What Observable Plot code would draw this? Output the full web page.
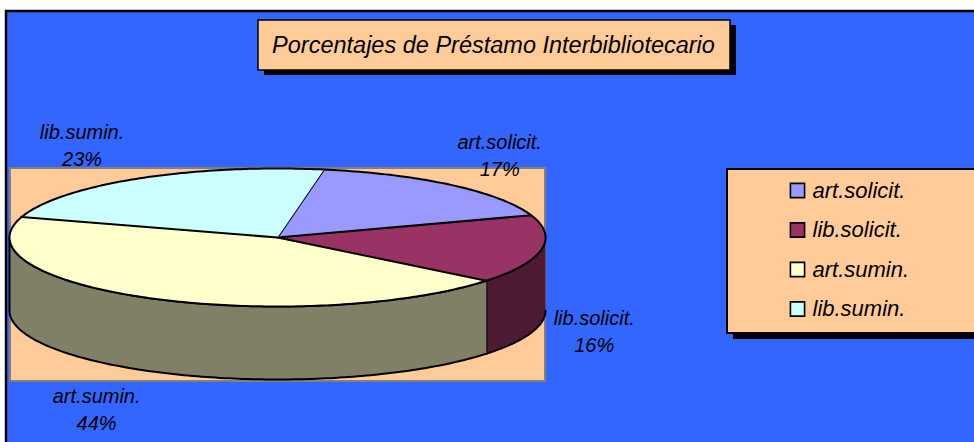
<!DOCTYPE html>
<html>
<head>
<meta charset="utf-8">
<script src="https://cdn.jsdelivr.net/npm/d3@7"></script>
<script src="https://cdn.jsdelivr.net/npm/@observablehq/plot@0.6"></script>
<style>
  html, body { margin: 0; padding: 0; background: #ffffff; }
  #chart { width: 974px; height: 442px; overflow: hidden; }
</style>
</head>
<body>
<div id="chart"></div>
<script>
// ---- data ----
const title = "Porcentajes de Préstamo Interbibliotecario";
const categories = ["art.solicit.", "lib.solicit.", "art.sumin.", "lib.sumin."];
const percentages = [17, 16, 44, 23];
const topColors = ["#9999FF", "#993366", "#FFFFCC", "#CCFFFF"];
const sideColors = ["#4D4D80", "#4D1933", "#808066", "#668080"];

// ---- layout ----
const W = 974, H = 442;
const cx = 277, cy = 237, rx = 268, ry = 69, depth = 73, startDeg = 10;
const labelCx = 272, labelRx = 283, labelRy = 110, labelHalfW = 43;
const font = "'Liberation Sans', Arial, Helvetica, sans-serif";

const total = d3.sum(percentages);
let acc = 0;
const slices = categories.map((c, i) => {
  const a0 = startDeg + acc / total * 360;
  acc += percentages[i];
  const a1 = startDeg + acc / total * 360;
  return {c, i, a0, a1, p: percentages[i]};
});

function pt(deg, dy = 0) {
  const r = deg * Math.PI / 180;
  return [cx + rx * Math.sin(r), cy - ry * Math.cos(r) + dy];
}
function arc(a, b) {
  const n = Math.max(2, Math.ceil(Math.abs(b - a)));
  return d3.range(n + 1).map(k => a + (b - a) * k / n);
}

// top faces
const topPts = [];
for (const s of slices) {
  const id = "top" + s.i;
  topPts.push({id, x: cx, y: cy, fill: topColors[s.i]});
  for (const a of arc(s.a0, s.a1)) {
    const [x, y] = pt(a);
    topPts.push({id, x, y, fill: topColors[s.i]});
  }
}
// visible side walls (front half: 90..270 deg)
const sidePts = [];
for (const s of slices) {
  for (const [lo, hi] of [[90, 270], [450, 630]]) {
    const a = Math.max(s.a0, lo), b = Math.min(s.a1, hi);
    if (b <= a) continue;
    const id = "side" + s.i + "_" + lo;
    for (const t of arc(a, b)) { const [x, y] = pt(t); sidePts.push({id, x, y, fill: sideColors[s.i]}); }
    for (const t of arc(b, a)) { const [x, y] = pt(t, depth); sidePts.push({id, x, y, fill: sideColors[s.i]}); }
  }
}
// labels
const labels = slices.map(s => {
  const m = (s.a0 + s.a1) / 2 * Math.PI / 180;
  const sn = Math.sin(m), cs = -Math.cos(m);
  return {
    text: `${s.c}\n${s.p}%`,
    x: labelCx + labelRx * sn + Math.sign(sn) * labelHalfW,
    y: cy + labelRy * cs + (cs > 0 ? depth : 0)
  };
});
// legend
const legend = categories.map((c, i) => ({c, i, color: topColors[i]}));
const legX = 797, legY0 = 190, legStep = 39.5;

const box = (x1, y1, x2, y2, o) => Plot.rect([0], {x1: () => x1, y1: () => y1, x2: () => x2, y2: () => y2, ...o});

const chart = Plot.plot({
  width: W, height: H,
  margin: 0,
  style: {background: "#ffffff", overflow: "hidden"},
  x: {domain: [0, W], range: [0, W], axis: null},
  y: {domain: [0, H], range: [0, H], axis: null},
  marks: [
    box(6, 11, 990, 460, {fill: "#3366FF", stroke: "#000000", strokeWidth: 2.5}),
    // title box
    box(264, 25, 736, 75, {fill: "#000000"}),
    box(258, 20, 730, 70, {fill: "#FFCC99", stroke: "#000000", strokeWidth: 1.5}),
    Plot.text([title], {x: () => 493, y: () => 45, text: d => d, fontSize: 23.5, fontStyle: "italic",
      fontFamily: font, fill: "#000000", textAnchor: "middle", lineAnchor: "middle"}),
    // plot area
    box(10, 168, 545, 381, {fill: "#FFCC99", stroke: "#808080", strokeWidth: 2}),
    // pie sides then tops
    Plot.line(sidePts, {x: "x", y: "y", z: "id", fill: "fill", stroke: "#000000", strokeWidth: 2,
      strokeLinejoin: "round", curve: "linear"}),
    Plot.line(topPts, {x: "x", y: "y", z: "id", fill: "fill", stroke: "#000000", strokeWidth: 2,
      strokeLinejoin: "round", curve: "linear"}),
    // data labels
    Plot.text(labels, {x: "x", y: "y", text: "text", fontSize: 20, fontStyle: "italic", fontFamily: font,
      fill: "#000000", textAnchor: "middle", lineAnchor: "middle", lineHeight: 1.35}),
    // legend
    box(733, 175, 990, 339, {fill: "#000000"}),
    box(727, 169, 990, 333, {fill: "#FFCC99", stroke: "#000000", strokeWidth: 2}),
    Plot.dot(legend, {x: () => legX, y: d => legY0 + d.i * legStep, symbol: "square", r: 8,
      fill: "color", stroke: "#000000", strokeWidth: 1.6}),
    Plot.text(legend, {x: () => legX + 15, y: d => legY0 + d.i * legStep, text: "c", fontSize: 22,
      fontStyle: "italic", fontFamily: font, fill: "#000000", textAnchor: "start", lineAnchor: "middle"})
  ]
});
document.getElementById("chart").appendChild(chart);
</script>
</body>
</html>
